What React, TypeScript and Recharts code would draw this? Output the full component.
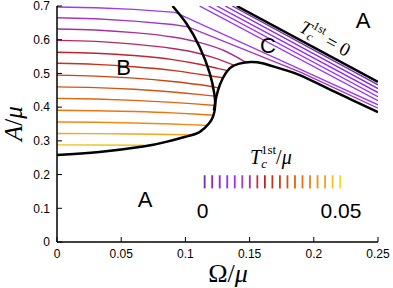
import { ComposedChart, Line, XAxis, YAxis, ReferenceLine } from 'recharts';

type Pt = [number, number];

const xTicks = [0, 0.05, 0.1, 0.15, 0.2, 0.25];
const yTicks = [0, 0.1, 0.2, 0.3, 0.4, 0.5, 0.6, 0.7];

// black phase boundaries (Omega/mu, A/mu)
const firstOrderLine: Pt[] = [
  [0.09, 0.7], [0.1008, 0.648], [0.111, 0.579], [0.119, 0.5], [0.1225, 0.44],
  [0.1232, 0.405], [0.1218, 0.375], [0.1185, 0.352], [0.111, 0.326], [0.1, 0.312],
  [0.085, 0.297], [0.067, 0.283], [0.033, 0.267], [0, 0.258],
];
const lowerCLine: Pt[] = [
  [0.1222, 0.39], [0.1235, 0.42], [0.1254, 0.45], [0.129, 0.485], [0.1345, 0.515],
  [0.142, 0.529], [0.151, 0.534], [0.16, 0.53], [0.1734, 0.515], [0.189, 0.495],
  [0.21, 0.457], [0.23, 0.421], [0.25, 0.385],
];
const zeroTcLine: Pt[] = [[0.14, 0.7], [0.25, 0.475]];

// contours of Tc^1st in region B (top = small Tc)
const lineA: Pt[] = [[0, 0.697], [0.03, 0.695], [0.06, 0.69], [0.092, 0.681], [0.19, 0.511], [0.25, 0.407]];
const lineB: Pt[] = [[0, 0.665], [0.03, 0.662], [0.06, 0.655], [0.09, 0.645], [0.102, 0.638], [0.19, 0.503], [0.25, 0.397]];
const lineC: Pt[] = [[0, 0.632], [0.03, 0.629], [0.06, 0.621], [0.09, 0.608], [0.11, 0.593], [0.13, 0.568], [0.147, 0.533]];
const lineD: Pt[] = [[0, 0.598], [0.03, 0.595], [0.06, 0.587], [0.09, 0.574], [0.11, 0.56], [0.125, 0.543], [0.1385, 0.523]];
const lineE: Pt[] = [[0, 0.563], [0.03, 0.56], [0.06, 0.553], [0.09, 0.541], [0.11, 0.528], [0.125, 0.515], [0.133, 0.508]];
const lineF: Pt[] = [[0, 0.53], [0.03, 0.527], [0.06, 0.52], [0.09, 0.509], [0.11, 0.498], [0.1292, 0.487]];
const lineG: Pt[] = [[0, 0.495], [0.03, 0.492], [0.06, 0.486], [0.09, 0.476], [0.11, 0.467], [0.1262, 0.457]];
const lineH: Pt[] = [[0, 0.46], [0.03, 0.458], [0.06, 0.453], [0.09, 0.445], [0.11, 0.438], [0.1243, 0.432]];
const lineI: Pt[] = [[0, 0.426], [0.03, 0.424], [0.06, 0.42], [0.09, 0.414], [0.11, 0.409], [0.1232, 0.405]];
const lineJ: Pt[] = [[0, 0.391], [0.03, 0.3895], [0.06, 0.387], [0.09, 0.383], [0.11, 0.379], [0.1222, 0.376]];
const lineK: Pt[] = [[0, 0.356], [0.03, 0.355], [0.06, 0.353], [0.09, 0.35], [0.11, 0.347], [0.117, 0.346]];
const lineL: Pt[] = [[0, 0.322], [0.03, 0.3215], [0.06, 0.3205], [0.09, 0.319], [0.104, 0.318]];
const lineM: Pt[] = [[0, 0.288], [0.03, 0.2875], [0.068, 0.287]];

const bLines = [lineA, lineB, lineC, lineD, lineE, lineF, lineG, lineH, lineI, lineJ, lineK, lineL, lineM];
const bColors = [
  '#9b3cf0', '#a236c8', '#a8309a', '#b52a5e', '#c0242c', '#c63218', '#cf4212',
  '#d85210', '#e06410', '#e87612', '#ee8a14', '#f0a81c', '#f0c424',
];

// contours in region C, near Tc^1st = 0
const lineC1: Pt[] = [[0.1365, 0.7], [0.25, 0.466]];
const lineC2: Pt[] = [[0.131, 0.7], [0.25, 0.455]];
const lineC3: Pt[] = [[0.1245, 0.7], [0.25, 0.443]];
const lineC4: Pt[] = [[0.118, 0.7], [0.25, 0.431]];
const lineC5: Pt[] = [[0.111, 0.7], [0.25, 0.419]];
const cLines = [lineC1, lineC2, lineC3, lineC4, lineC5];
const cColors = ['#6e34b0', '#8a2cdc', '#9426f4', '#9a2cff', '#9a30f8'];

// colour key, Tc^1st/mu from 0 to 0.05
const legendColors = [
  '#7030a0', '#8a22e0', '#9020f4', '#9428ff', '#9a2cf4', '#a03cd0', '#b03090',
  '#c03050', '#c02020', '#c83020', '#d04010', '#d85010', '#e06010', '#e87010',
  '#f08010', '#f09010', '#f0a020', '#f0c020', '#f0e020',
];
const legendX: Pt = [0.115, 0.2205];
const legendY: Pt = [0.159, 0.198];

const rows = (pts: Pt[]) => pts.map(([x, y]) => ({ x, y }));

const tickFont = { fill: '#000', fontSize: 12, fontFamily: 'Liberation Sans, Arial, sans-serif' };
const axisStroke = { stroke: '#000', strokeWidth: 1.5 };
const serif = 'Liberation Serif, Times New Roman, serif';
const sans = 'Liberation Sans, Arial, sans-serif';

export default function App() {
  const step = (legendX[1] - legendX[0]) / (legendColors.length - 1);
  return (
    <div style={{ position: 'absolute', left: 0, top: 0, width: 393, height: 288, background: '#fff' }}>
      <ComposedChart width={393} height={288} margin={{ top: 6, right: 15, bottom: 0, left: 12 }}>
        <XAxis
          dataKey="x" type="number" domain={[0, 0.25]} ticks={xTicks} interval={0}
          allowDataOverflow height={46} tickSize={-5} tickMargin={12}
          tickFormatter={(v: number) => String(v)}
          axisLine={axisStroke} tickLine={{ stroke: '#000' }} tick={tickFont}
        />
        <XAxis
          xAxisId="top" orientation="top" type="number" domain={[0, 0.25]} ticks={xTicks}
          interval={0} height={0} tickSize={-5} tick={false}
          axisLine={axisStroke} tickLine={{ stroke: '#000' }}
        />
        <YAxis
          type="number" domain={[0, 0.7]} ticks={yTicks} interval={0} allowDataOverflow
          width={45} tickSize={-5} tickMargin={12}
          tickFormatter={(v: number) => String(v)}
          axisLine={axisStroke} tickLine={{ stroke: '#000' }} tick={tickFont}
        />
        <YAxis
          yAxisId="right" orientation="right" type="number" domain={[0, 0.7]} ticks={yTicks}
          interval={0} width={0} tickSize={-5} tick={false}
          axisLine={axisStroke} tickLine={{ stroke: '#000' }}
        />

        {cLines.map((pts, i) => (
          <Line
            key={`c-${i}`} data={rows(pts)} dataKey="y" type="linear" stroke={cColors[i]}
            strokeWidth={1.4} dot={false} activeDot={false} isAnimationActive={false}
          />
        ))}
        {bLines.map((pts, i) => (
          <Line
            key={`b-${i}`} data={rows(pts)} dataKey="y" type={i < 2 ? 'linear' : 'monotone'}
            stroke={bColors[i]} strokeWidth={1.4} dot={false} activeDot={false} isAnimationActive={false}
          />
        ))}

        <Line data={rows(firstOrderLine)} dataKey="y" type="natural" stroke="#000" strokeWidth={2.5}
          dot={false} activeDot={false} isAnimationActive={false} />
        <Line data={rows(lowerCLine)} dataKey="y" type="natural" stroke="#000" strokeWidth={2.5}
          dot={false} activeDot={false} isAnimationActive={false} />
        <Line data={rows(zeroTcLine)} dataKey="y" type="linear" stroke="#000" strokeWidth={2.5}
          dot={false} activeDot={false} isAnimationActive={false} />

        {legendColors.map((c, i) => (
          <ReferenceLine
            key={`k-${i}`}
            segment={[{ x: legendX[0] + i * step, y: legendY[0] }, { x: legendX[0] + i * step, y: legendY[1] }]}
            stroke={c} strokeWidth={1.8}
          />
        ))}
      </ComposedChart>

      <svg width={393} height={288} style={{ position: 'absolute', left: 0, top: 0, pointerEvents: 'none' }}>
        <text x={145} y={207} textAnchor="middle" fontFamily={sans} fontSize={22}>A</text>
        <text x={123.5} y={75} textAnchor="middle" fontFamily={sans} fontSize={22}>B</text>
        <text x={268} y={53} textAnchor="middle" fontFamily={sans} fontSize={22}>C</text>
        <text x={363} y={28} textAnchor="middle" fontFamily={sans} fontSize={22}>A</text>
        <text x={202.5} y={218} textAnchor="middle" fontFamily={sans} fontSize={21}>0</text>
        <text x={341} y={218} textAnchor="middle" fontFamily={sans} fontSize={21}>0.05</text>

        <text x={250} y={164} fontFamily={serif} fontSize={20}>
          <tspan fontStyle="italic">T</tspan>
          <tspan fontSize={13} dy={4} fontStyle="italic">c</tspan>
          <tspan fontSize={13} dx={-6} dy={-14}>1st</tspan>
          <tspan dy={10}>/</tspan>
          <tspan fontStyle="italic">μ</tspan>
        </text>

        <text x={298} y={31} fontFamily={serif} fontSize={19} transform="rotate(28.6 298 31)">
          <tspan fontStyle="italic">T</tspan>
          <tspan fontSize={12} dy={3} fontStyle="italic">c</tspan>
          <tspan fontSize={12} dx={-5} dy={-12}>1st</tspan>
          <tspan dy={9}> = 0</tspan>
        </text>

        <text x={22} y={123.5} textAnchor="middle" fontFamily={serif} fontSize={25} transform="rotate(-90 22 123.5)">
          <tspan fontStyle="italic">A</tspan>
          <tspan>/</tspan>
          <tspan fontStyle="italic">μ</tspan>
        </text>
        <text x={228} y={282} textAnchor="middle" fontFamily={serif} fontSize={26}>
          <tspan>Ω</tspan>
          <tspan>/</tspan>
          <tspan fontStyle="italic">μ</tspan>
        </text>
      </svg>
    </div>
  );
}
